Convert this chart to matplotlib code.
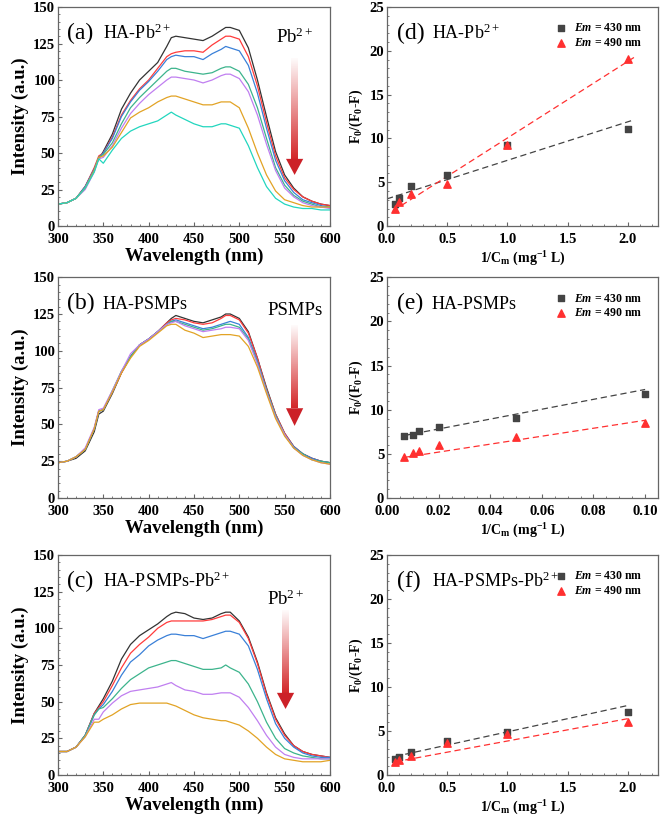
import numpy as np
import matplotlib
matplotlib.use("Agg")
import matplotlib.pyplot as plt
from matplotlib.patches import Polygon

plt.rcParams['font.family'] = ['Liberation Serif', 'DejaVu Serif']
plt.rcParams['mathtext.fontset'] = 'custom'
plt.rcParams['mathtext.rm'] = 'Liberation Serif'
plt.rcParams['mathtext.it'] = 'Liberation Serif:italic:bold'
plt.rcParams['mathtext.bf'] = 'Liberation Serif:bold'

# ---- spectra ----
wl = [300, 310, 320, 330, 340, 345, 350, 360, 370, 380, 390, 400, 410, 420, 425, 430, 440,
      450, 460, 470, 480, 485, 490, 500, 510, 520, 530, 540, 550, 560, 570, 580, 590, 600]

a_black = [15, 16, 19, 27, 39, 46, 51, 63, 80, 91, 100, 106, 112, 123, 129, 130, 129, 128, 127, 130, 134, 136, 136, 134, 122, 100, 75, 51, 35, 26, 20, 17, 15, 14]
a_red = [15, 16, 19, 27, 40, 48, 50, 61, 76, 86, 94, 100, 108, 116, 118, 119, 120, 120, 119, 124, 128, 130, 130, 128, 116, 96, 71, 48, 33, 25, 20, 17, 15, 14]
a_blue = [15, 16, 19, 27, 39, 47, 50, 60, 75, 85, 93, 99, 106, 114, 116, 117, 116, 116, 114, 118, 121, 123, 122, 120, 110, 91, 67, 45, 31, 23, 18, 16, 14, 13]
a_green = [15, 16, 19, 26, 38, 47, 49, 57, 70, 81, 88, 94, 100, 106, 108, 108, 106, 105, 104, 105, 108, 109, 109, 106, 97, 81, 60, 40, 28, 21, 17, 15, 13, 13]
a_purple = [15, 16, 19, 25, 37, 46, 47, 55, 67, 77, 84, 90, 95, 100, 102, 102, 101, 100, 98, 100, 103, 104, 104, 101, 92, 76, 56, 38, 26, 20, 16, 14, 13, 12]
a_orange = [15, 16, 19, 26, 38, 47, 48, 54, 64, 74, 78, 81, 85, 88, 89, 89, 87, 85, 83, 83, 85, 85, 85, 81, 67, 50, 35, 24, 18, 16, 14, 13, 13, 13]
a_cyan = [15, 16, 19, 26, 37, 46, 43, 52, 60, 65, 68, 70, 72, 76, 78, 76, 73, 70, 68, 68, 70, 70, 69, 67, 55, 40, 27, 19, 15, 13, 12, 12, 11, 11]

b_black = [24, 25, 27, 32, 45, 57, 59, 71, 85, 96, 104, 108, 113, 119, 122, 124, 122, 120, 119, 121, 123, 125, 125, 122, 113, 95, 75, 57, 44, 35, 30, 27, 25, 24]
b_red = [24, 25, 28, 33, 47, 59, 60, 72, 85, 96, 104, 108, 113, 119, 121, 122, 121, 119, 118, 119, 122, 124, 124, 121, 112, 95, 74, 57, 44, 35, 30, 27, 25, 24]
b_blue = [24, 25, 28, 33, 47, 59, 60, 72, 86, 96, 104, 108, 113, 118, 120, 121, 119, 117, 115, 116, 118, 119, 120, 118, 109, 93, 73, 56, 43, 35, 30, 27, 25, 24]
b_green = [24, 25, 28, 33, 47, 59, 60, 73, 86, 96, 104, 108, 113, 118, 120, 120, 118, 116, 114, 115, 117, 118, 118, 116, 108, 92, 73, 56, 43, 34, 30, 26, 25, 24]
b_purple = [24, 25, 28, 34, 48, 60, 61, 73, 86, 98, 104, 108, 113, 118, 119, 120, 117, 115, 113, 114, 115, 116, 116, 115, 107, 91, 72, 55, 43, 34, 29, 26, 24, 23]
b_orange = [24, 25, 28, 33, 47, 59, 60, 72, 85, 95, 103, 107, 112, 117, 118, 118, 114, 112, 109, 110, 111, 111, 111, 110, 103, 89, 71, 54, 42, 34, 29, 26, 24, 23]

c_black = [16, 16, 19, 27, 42, 47, 52, 64, 79, 89, 95, 99, 103, 108, 110, 111, 110, 107, 106, 107, 110, 111, 111, 105, 94, 77, 56, 39, 28, 20, 16, 14, 13, 12]
c_red = [16, 16, 19, 27, 42, 46, 50, 61, 73, 83, 89, 94, 100, 104, 105, 105, 105, 105, 105, 106, 108, 109, 109, 104, 93, 76, 55, 38, 27, 20, 16, 14, 13, 12]
c_blue = [16, 16, 19, 27, 41, 45, 48, 57, 68, 77, 82, 88, 92, 95, 96, 96, 95, 95, 93, 95, 97, 98, 98, 96, 88, 72, 52, 35, 25, 19, 15, 13, 12, 12]
c_green = [16, 16, 19, 27, 41, 45, 46, 52, 59, 65, 69, 73, 75, 77, 78, 78, 76, 74, 72, 72, 73, 75, 73, 70, 62, 50, 36, 25, 18, 15, 13, 12, 11, 11]
c_purple = [16, 16, 19, 26, 38, 38, 43, 49, 54, 57, 58, 59, 60, 62, 63, 61, 58, 57, 55, 55, 56, 56, 56, 53, 46, 37, 27, 19, 14, 12, 11, 11, 11, 11]
c_orange = [16, 16, 19, 26, 36, 36, 38, 41, 45, 48, 49, 49, 49, 49, 48, 47, 44, 41, 39, 38, 37, 37, 36, 34, 30, 25, 19, 14, 11, 10, 9, 9, 9, 10]

# ---- Stern-Volmer style plots ----
inv_c = [0.0667, 0.1, 0.2, 0.5, 1.0, 2.0]
inv_c_e = [0.00667, 0.01, 0.0125, 0.02, 0.05, 0.1]
d_430 = [2.5, 3.2, 4.6, 5.8, 9.2, 11.1]
d_490 = [2.0, 2.7, 3.7, 4.8, 9.3, 19.1]
e_430 = [7.0, 7.1, 7.6, 8.0, 9.1, 11.8]
e_490 = [4.7, 5.1, 5.3, 6.0, 6.9, 8.5]
f_430 = [1.8, 2.0, 2.6, 3.9, 4.9, 7.2]
f_490 = [1.5, 1.7, 2.2, 3.6, 4.7, 6.0]
# fitted lines (slope, intercept) as drawn in the figure
d_fit = [(4.4, 3.1), (8.75, 1.3)]
e_fit = [(55.9, 6.7), (45.0, 4.3)]
f_fit = [(3.0, 1.9), (2.54, 1.32)]

colors7 = ['#333333', '#ff3b3b', '#3a80d8', '#3cb48c', '#c07ff0', '#e2a325', '#22d6be']
colors6 = colors7[:6]

fig = plt.figure(figsize=(6.61, 8.24), dpi=100)
rows = [(0.7257, 0.2658), (0.3956, 0.268), (0.0595, 0.267)]
spine_col = '#666666'


def style(ax):
    for s in ax.spines.values():
        s.set_color(spine_col)
        s.set_linewidth(0.9)
    ax.minorticks_on()
    ax.tick_params(which='both', direction='in', color=spine_col, labelsize=10.5, pad=2)
    ax.tick_params(axis='x', which='both', pad=5)
    ax.tick_params(which='major', length=3)
    ax.tick_params(which='minor', length=1.5)
    for lab in ax.get_xticklabels() + ax.get_yticklabels():
        lab.set_fontweight('bold')


def grad_arrow(ax, x, ytop, ybase, ytip):
    # shaft fading from white (top) to red (bottom), solid red head
    g = np.zeros((100, 1, 4))
    g[:, 0, 0] = 0.83
    g[:, 0, 1] = 0.15
    g[:, 0, 2] = 0.16
    g[:, 0, 3] = np.linspace(0.02, 1.0, 100)
    ax.imshow(g, extent=[x - 3.6, x + 3.6, ybase, ytop], aspect='auto', zorder=3,
              interpolation='bilinear', origin='upper')
    ax.add_patch(Polygon([[x - 9.5, ybase], [x + 9.5, ybase], [x, ytip]],
                         closed=True, color='#cc2128', lw=0, zorder=3))


spectra = [
    ('(a)', 'HA-Pb$^{2+}$', [a_black, a_red, a_blue, a_green, a_purple, a_orange, a_cyan], colors7,
     'Pb$^{2+}$', 0.836, 561, (115, 46, 35)),
    ('(b)', 'HA-PSMPs', [b_black, b_red, b_blue, b_green, b_purple, b_orange], colors6,
     'PSMPs', 0.828, 561, (117, 61, 49)),
    ('(c)', 'HA-PSMPs-Pb$^{2+}$', [c_black, c_red, c_blue, c_green, c_purple, c_orange], colors6,
     'Pb$^{2+}$', 0.773, 551, (112, 56, 45)),
]

for (b, h), (tag, name, curves, cols, lab, ly, ax_x, (yt, yb, yp)) in zip(rows, spectra):
    ax = fig.add_axes([0.0877, b, 0.4115, h])
    for y, c in zip(curves, cols):
        ax.plot(wl, y, color=c, lw=0.9)
    grad_arrow(ax, ax_x, yt, yb, yp)
    ax.set_xlim(300, 600)
    ax.set_ylim(0, 150)
    ax.set_xticks(np.arange(300, 601, 50))
    ax.set_yticks(np.arange(0, 151, 25))
    style(ax)
    ax.set_xlabel('Wavelength (nm)', fontsize=13.5, fontweight='bold', labelpad=1)
    ax.set_ylabel('Intensity (a.u.)', fontsize=13.5, fontweight='bold', labelpad=3)
    ax.text(0.035, 0.855, tag, transform=ax.transAxes, fontsize=17)
    ax.text(0.165, 0.855, name, transform=ax.transAxes, fontsize=13)
    ax.text(ax_x, ly, lab, transform=ax.get_xaxis_transform(), fontsize=13.5, ha='center')

svp = [
    ('(d)', 'HA-Pb$^{2+}$', inv_c, d_430, d_490, d_fit, (0, 2.25), np.arange(0, 2.01, 0.5), '%.1f', ((0.0, 2.05), (0.05, 2.05))),
    ('(e)', 'HA-PSMPs', inv_c_e, e_430, e_490, e_fit, (0, 0.105), np.arange(0, 0.101, 0.02), '%.2f', ((0.0067, 0.1), (0.0067, 0.1))),
    ('(f)', 'HA-PSMPs-Pb$^{2+}$', inv_c, f_430, f_490, f_fit, (0, 2.25), np.arange(0, 2.01, 0.5), '%.1f', ((0.07, 2.0), (0.07, 2.0))),
]

for (b, h), (tag, name, xs, y1, y2, fits, xl, xt, fmt, spans) in zip(rows, svp):
    ax = fig.add_axes([0.5855, b, 0.41, h])
    for (k, q), (x0, x1), c in zip(fits, spans, ['#444444', '#ff3030']):
        xx = np.array([x0, x1])
        ax.plot(xx, k * xx + q, ls=(0, (5, 3)), color=c, lw=0.9)
    ax.scatter(xs, y1, marker='s', s=22, color='#444444', zorder=4, label='$Em$ = 430 nm')
    ax.scatter(xs, y2, marker='^', s=28, color='#ff3030', zorder=4, label='$Em$ = 490 nm')
    ax.set_xlim(*xl)
    ax.set_ylim(0, 25)
    ax.set_xticks(xt)
    ax.set_xticklabels([fmt % v for v in xt])
    ax.set_yticks(np.arange(0, 26, 5))
    style(ax)
    ax.set_xlabel(r'1/C$_\mathbf{m}$ (mg$^\mathbf{-1}$ L)', fontsize=10, fontweight='bold', labelpad=3)
    ax.set_ylabel(r'F$_\mathbf{0}$/(F$_\mathbf{0}$-F)', fontsize=10, fontweight='bold', labelpad=3)
    ax.text(0.035, 0.855, tag, transform=ax.transAxes, fontsize=17)
    ax.text(0.165, 0.855, name, transform=ax.transAxes, fontsize=13)
    ax.legend(loc='upper right', frameon=False, handletextpad=0.6,
              borderaxespad=0.9, labelspacing=0.25, handlelength=1.0,
              prop={'weight': 'bold', 'size': 8.5})

fig.savefig('out.png', dpi=100)
